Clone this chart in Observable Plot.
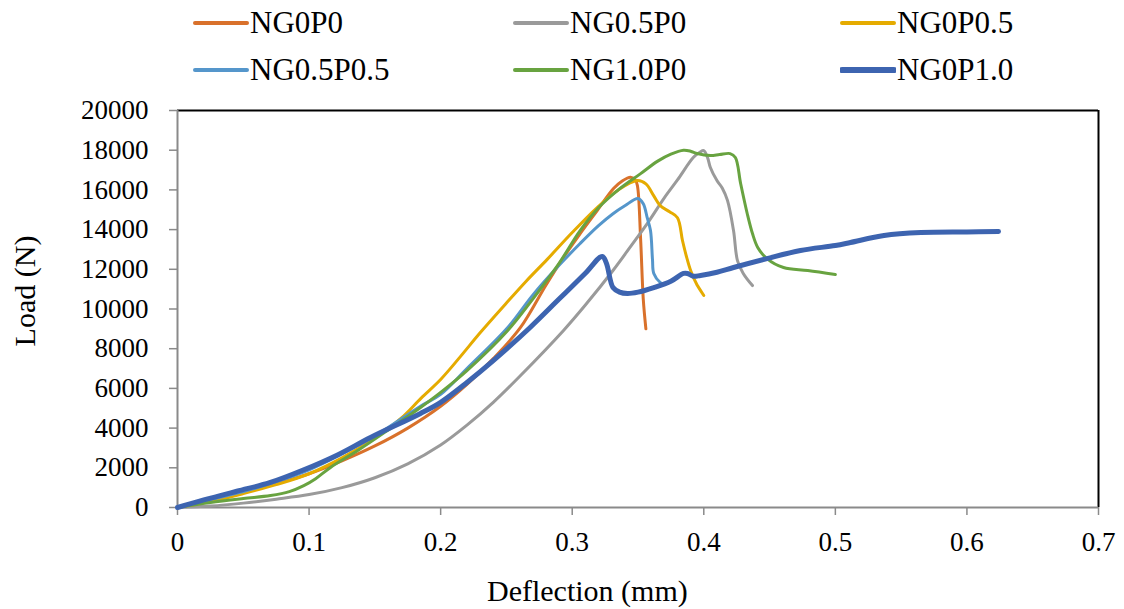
<!DOCTYPE html>
<html>
<head>
<meta charset="utf-8">
<script src="https://cdn.jsdelivr.net/npm/d3@7"></script>
<script src="https://cdn.jsdelivr.net/npm/@observablehq/plot@0.6"></script>
<style>
  html, body { margin: 0; padding: 0; background: #fff; }
  body { width: 1124px; height: 609px; position: relative; overflow: hidden; font-family: "Liberation Serif", "LiberationSerif", "Times New Roman", Times, "DejaVu Serif", serif; }
  #chart { position: absolute; left: 0; top: 0; }
  .lg { position: absolute; font-size: 31px; line-height: 30px; color: #000; white-space: nowrap; }
  .lg svg { position: absolute; }
  .title { position: absolute; font-size: 30px; color: #000; white-space: nowrap; }
</style>
</head>
<body>
<div id="chart"></div>
<div id="legend"></div>
<div class="title" id="xtitle">Deflection (mm)</div>
<div class="title" id="ytitle">Load (N)</div>
<script>
// ---- Data (deflection in mm, load in N) ----
const seriesNames = ["NG0P0", "NG0.5P0", "NG0P0.5", "NG0.5P0.5", "NG1.0P0", "NG0P1.0"];
const seriesColors = ["#D9712B", "#9A9A9A", "#E5AB00", "#5596CB", "#68A340", "#3D64B0"];
const seriesWidths = [3, 3, 3, 3, 3, 5];

const ng0p0 = [[0,0],[0.025,350],[0.05,750],[0.075,1200],[0.1,1700],[0.125,2350],[0.15,3100],[0.175,4000],[0.2,5100],[0.22,6200],[0.24,7500],[0.2607,9070],[0.28,11200],[0.2934,12600],[0.305,13700],[0.319,14960],[0.3314,16070],[0.338,16450],[0.3443,16640],[0.348,16500],[0.3496,16200],[0.352,13500],[0.354,10500],[0.356,9000]];
const ng05p0 = [[0,0],[0.025,70],[0.05,220],[0.075,420],[0.1,650],[0.125,1000],[0.15,1500],[0.175,2200],[0.2,3150],[0.22,4150],[0.24,5300],[0.26,6600],[0.2934,8920],[0.31,10200],[0.331,11940],[0.345,13200],[0.357,14300],[0.37,15600],[0.38,16500],[0.392,17630],[0.397,17900],[0.4,17980],[0.403,17600],[0.405,17130],[0.41,16470],[0.414,16100],[0.418,15470],[0.4226,13950],[0.4256,12440],[0.43,11790],[0.437,11180]];
const ng0p05 = [[0,0],[0.025,300],[0.05,700],[0.075,1150],[0.1,1700],[0.125,2500],[0.15,3500],[0.17,4500],[0.185,5500],[0.2,6450],[0.215,7600],[0.23,8800],[0.25,10300],[0.265,11400],[0.281,12500],[0.3,13850],[0.319,15110],[0.335,16000],[0.3496,16470],[0.356,16300],[0.362,15700],[0.367,15200],[0.374,14900],[0.38,14600],[0.3838,13450],[0.387,12600],[0.39,11940],[0.395,11200],[0.4,10680]];
const ng05p05 = [[0,0],[0.025,400],[0.05,800],[0.075,1300],[0.1,1900],[0.125,2700],[0.15,3600],[0.1847,5100],[0.2,5700],[0.22,7000],[0.251,9070],[0.27,10700],[0.29,12200],[0.306,13300],[0.32,14200],[0.331,14800],[0.34,15200],[0.35,15570],[0.354,15300],[0.357,14600],[0.3595,13950],[0.361,12500],[0.362,11790],[0.367,11330],[0.37,11250]];
const ng10p0 = [[0,0],[0.025,250],[0.05,450],[0.0707,600],[0.085,800],[0.096,1100],[0.105,1450],[0.1163,2020],[0.137,2870],[0.1596,3880],[0.1847,5040],[0.2,5800],[0.22,6900],[0.251,8920],[0.27,10500],[0.29,12300],[0.306,13950],[0.32,15100],[0.335,16000],[0.352,16820],[0.365,17450],[0.375,17800],[0.3846,18000],[0.39,17950],[0.395,17830],[0.405,17730],[0.412,17780],[0.42,17830],[0.424,17630],[0.428,16320],[0.433,14810],[0.437,13800],[0.441,13100],[0.448,12540],[0.4606,12090],[0.479,11940],[0.5,11740]];
const ng0p10 = [[0,0],[0.02,380],[0.045,820],[0.07,1250],[0.096,1900],[0.1216,2650],[0.1467,3530],[0.1847,4740],[0.2,5300],[0.22,6300],[0.24,7400],[0.268,9070],[0.29,10500],[0.31,11800],[0.3228,12650],[0.326,12300],[0.331,11080],[0.336,10850],[0.342,10780],[0.35,10850],[0.362,11080],[0.375,11400],[0.3846,11790],[0.3876,11790],[0.392,11650],[0.3975,11690],[0.41,11850],[0.4226,12090],[0.448,12540],[0.4735,12950],[0.5,13200],[0.5115,13350],[0.537,13700],[0.565,13850],[0.6,13880],[0.624,13900]];

const xTicks = [0, 0.1, 0.2, 0.3, 0.4, 0.5, 0.6, 0.7];
const yTicks = [0, 2000, 4000, 6000, 8000, 10000, 12000, 14000, 16000, 18000, 20000];

const allSeries = [ng0p0, ng05p0, ng0p05, ng05p05, ng10p0, ng0p10];

const FONT = "'Liberation Serif', 'LiberationSerif', 'Times New Roman', Times, 'DejaVu Serif', serif";

const lineMarks = allSeries.map((s, i) =>
  Plot.line(s, {x: d => d[0], y: d => d[1], stroke: seriesColors[i], strokeWidth: seriesWidths[i], curve: "catmull-rom", strokeLinejoin: "round", strokeLinecap: "round"})
);

const chart = Plot.plot({
  width: 1124,
  height: 609,
  marginLeft: 177,
  marginRight: 26,
  marginTop: 110,
  marginBottom: 102,
  style: {fontFamily: FONT, fontSize: "27px", color: "#000", background: "transparent", overflow: "visible"},
  x: {domain: [0, 0.7], label: null},
  y: {domain: [0, 20000], label: null},
  marks: [
    Plot.ruleY([20000], {stroke: "#000", strokeWidth: 2}),
    Plot.ruleX([0.7], {stroke: "#000", strokeWidth: 2}),
    Plot.axisX({ticks: xTicks, tickFormat: d => d === 0 ? "0" : d3.format(".1f")(d), tickSize: 8, tickPadding: 16, stroke: "#8a8a8a", strokeWidth: 1.5, fill: "#000", fontFamily: FONT, label: null}),
    Plot.axisY({ticks: yTicks, tickFormat: d => String(d), tickSize: 8, tickPadding: 21, stroke: "#8a8a8a", strokeWidth: 1.5, fill: "#000", fontFamily: FONT, label: null}),
    Plot.ruleX([0], {stroke: "#8a8a8a", strokeWidth: 2}),
    Plot.ruleY([0], {stroke: "#8a8a8a", strokeWidth: 2}),
    ...lineMarks
  ]
});
document.getElementById("chart").appendChild(chart);

// Legend (HTML, above the plot area)
const legendCols = [193, 513, 840];
const legendRows = [23, 70];
const legend = document.getElementById("legend");
seriesNames.forEach((name, i) => {
  const col = i % 3, row = Math.floor(i / 3);
  const item = document.createElement("div");
  item.className = "lg";
  item.style.left = legendCols[col] + "px";
  item.style.top = (legendRows[row] - 15) + "px";
  const sw = seriesWidths[i] === 5 ? 6 : 4;
  item.innerHTML = `<svg width="56" height="30" style="left:0;top:0"><line x1="2" y1="15" x2="54" y2="15" stroke="${seriesColors[i]}" stroke-width="${sw}" stroke-linecap="round"/></svg><span style="position:absolute;left:57px;top:0">${name}</span>`;
  legend.appendChild(item);
});

const xt = document.getElementById("xtitle");
xt.style.left = "487px";
xt.style.top = "574px";
xt.style.lineHeight = "34px";
const yt = document.getElementById("ytitle");
yt.style.lineHeight = "30px";
yt.style.left = "25px";
yt.style.top = "291px";
yt.style.transform = "translate(-50%, -50%) rotate(-90deg)";
yt.style.transformOrigin = "center center";
</script>
</body>
</html>
